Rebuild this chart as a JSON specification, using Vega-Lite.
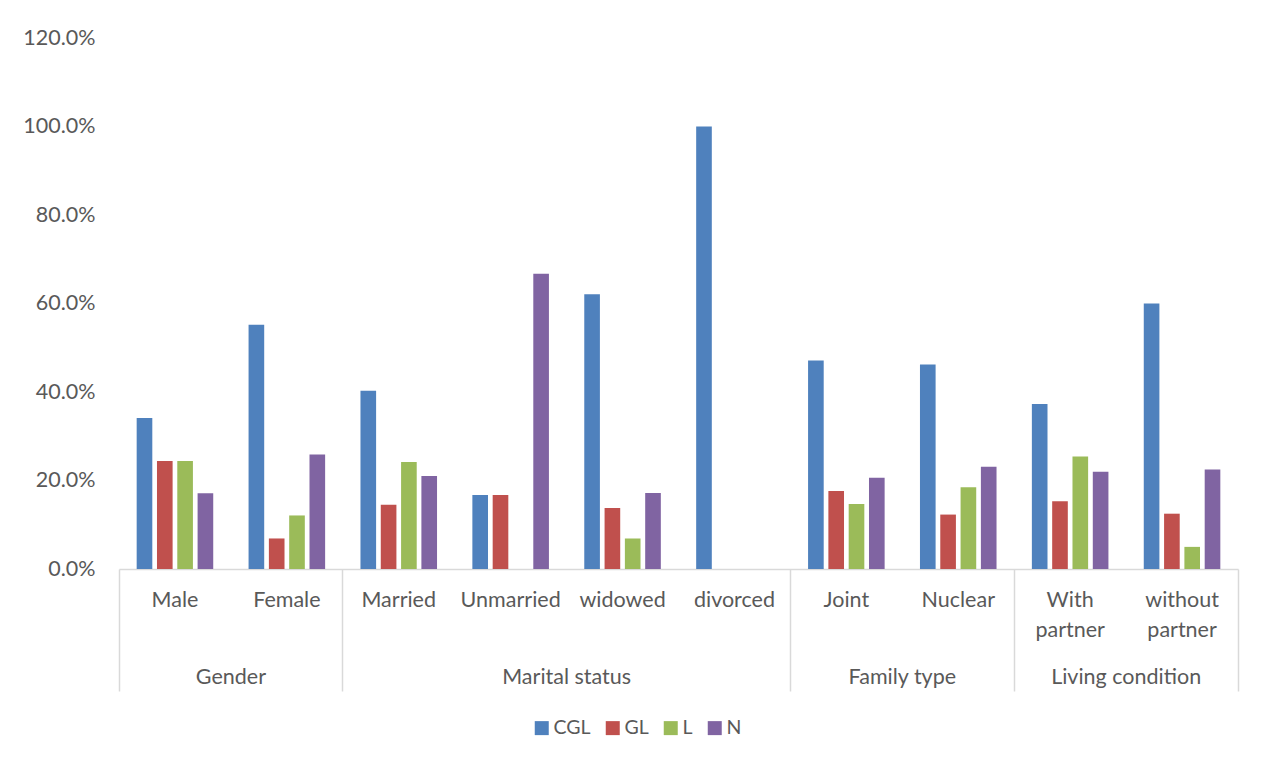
{
  "$schema": "https://vega.github.io/schema/vega-lite/v6.json",
  "autosize": {"type": "none"},
  "width": 1119,
  "height": 531,
  "padding": {"left": 119, "top": 38, "right": 26, "bottom": 193},
  "background": "white",
  "config": {
    "font": "Lato",
    "view": {"stroke": null},
    "axis": {"labelColor": "#595959", "labelFontSize": 21.5, "labelFont": "Lato", "titleColor": "#595959"},
    "legend": {"labelColor": "#595959", "labelFontSize": 19.5, "labelFont": "Lato"}
  },
  "data": {
    "values": [
      {"group": "Gender", "sub": "Male", "series": "CGL", "value": 0.341},
      {"group": "Gender", "sub": "Male", "series": "GL", "value": 0.244},
      {"group": "Gender", "sub": "Male", "series": "L", "value": 0.244},
      {"group": "Gender", "sub": "Male", "series": "N", "value": 0.171},
      {"group": "Gender", "sub": "Female", "series": "CGL", "value": 0.552},
      {"group": "Gender", "sub": "Female", "series": "GL", "value": 0.069},
      {"group": "Gender", "sub": "Female", "series": "L", "value": 0.121},
      {"group": "Gender", "sub": "Female", "series": "N", "value": 0.259},
      {"group": "Marital status", "sub": "Married", "series": "CGL", "value": 0.403},
      {"group": "Marital status", "sub": "Married", "series": "GL", "value": 0.145},
      {"group": "Marital status", "sub": "Married", "series": "L", "value": 0.242},
      {"group": "Marital status", "sub": "Married", "series": "N", "value": 0.21},
      {"group": "Marital status", "sub": "Unmarried", "series": "CGL", "value": 0.167},
      {"group": "Marital status", "sub": "Unmarried", "series": "GL", "value": 0.167},
      {"group": "Marital status", "sub": "Unmarried", "series": "L", "value": 0},
      {"group": "Marital status", "sub": "Unmarried", "series": "N", "value": 0.667},
      {"group": "Marital status", "sub": "widowed", "series": "CGL", "value": 0.621},
      {"group": "Marital status", "sub": "widowed", "series": "GL", "value": 0.138},
      {"group": "Marital status", "sub": "widowed", "series": "L", "value": 0.069},
      {"group": "Marital status", "sub": "widowed", "series": "N", "value": 0.172},
      {"group": "Marital status", "sub": "divorced", "series": "CGL", "value": 1.0},
      {"group": "Marital status", "sub": "divorced", "series": "GL", "value": 0},
      {"group": "Marital status", "sub": "divorced", "series": "L", "value": 0},
      {"group": "Marital status", "sub": "divorced", "series": "N", "value": 0},
      {"group": "Family type", "sub": "Joint", "series": "CGL", "value": 0.471},
      {"group": "Family type", "sub": "Joint", "series": "GL", "value": 0.176},
      {"group": "Family type", "sub": "Joint", "series": "L", "value": 0.147},
      {"group": "Family type", "sub": "Joint", "series": "N", "value": 0.206},
      {"group": "Family type", "sub": "Nuclear", "series": "CGL", "value": 0.462},
      {"group": "Family type", "sub": "Nuclear", "series": "GL", "value": 0.123},
      {"group": "Family type", "sub": "Nuclear", "series": "L", "value": 0.185},
      {"group": "Family type", "sub": "Nuclear", "series": "N", "value": 0.231},
      {"group": "Living condition", "sub": "With partner", "series": "CGL", "value": 0.373},
      {"group": "Living condition", "sub": "With partner", "series": "GL", "value": 0.153},
      {"group": "Living condition", "sub": "With partner", "series": "L", "value": 0.254},
      {"group": "Living condition", "sub": "With partner", "series": "N", "value": 0.22},
      {"group": "Living condition", "sub": "without partner", "series": "CGL", "value": 0.6},
      {"group": "Living condition", "sub": "without partner", "series": "GL", "value": 0.125},
      {"group": "Living condition", "sub": "without partner", "series": "L", "value": 0.05},
      {"group": "Living condition", "sub": "without partner", "series": "N", "value": 0.225}
    ]
  },
  "layer": [
    {
      "mark": {"type": "bar"},
      "encoding": {
        "x": {
          "field": "sub",
          "type": "nominal",
          "sort": null,
          "scale": {"type": "band", "paddingInner": 0, "paddingOuter": 0},
          "axis": {
            "orient": "bottom",
            "title": null,
            "ticks": false,
            "domainColor": "#D9D9D9",
            "domainWidth": 1.5,
            "labelAngle": 0,
            "labelPadding": 20,
            "labelBaseline": "top",
            "labelLineHeight": 30,
            "labelExpr": "split(datum.value, ' ')"
          }
        },
        "xOffset": {
          "field": "series",
          "type": "nominal",
          "sort": ["CGL", "GL", "L", "N"],
          "scale": {"paddingInner": 0.23, "paddingOuter": 0.87}
        },
        "y": {
          "field": "value",
          "type": "quantitative",
          "scale": {"domain": [0, 1.2], "nice": false},
          "axis": {
            "title": null,
            "format": ".1%",
            "values": [0, 0.2, 0.4, 0.6, 0.8, 1.0, 1.2],
            "grid": false,
            "domain": false,
            "ticks": false,
            "labelPadding": 24
          }
        },
        "color": {
          "field": "series",
          "type": "nominal",
          "sort": ["CGL", "GL", "L", "N"],
          "scale": {"domain": ["CGL", "GL", "L", "N"], "range": ["#4F81BD", "#C0504D", "#9BBB59", "#8064A2"]},
          "legend": {
            "title": null,
            "orient": "none",
            "direction": "horizontal",
            "legendX": 413,
            "legendY": 680,
            "symbolType": "square",
            "symbolSize": 196,
            "symbolStrokeWidth": 0,
            "labelOffset": 2,
            "columnPadding": 12,
            "padding": 0
          }
        }
      }
    },
    {
      "mark": {"type": "point", "opacity": 0},
      "encoding": {
        "x": {
          "field": "sub",
          "type": "nominal",
          "sort": null,
          "scale": {"type": "band", "paddingInner": 0, "paddingOuter": 0},
          "axis": {
            "orient": "bottom",
            "title": null,
            "values": ["Male", "Married", "Joint", "With partner"],
            "bandPosition": 0,
            "labels": false,
            "domain": false,
            "tickSize": 122,
            "tickColor": "#D9D9D9",
            "tickWidth": 1.5
          }
        }
      }
    },
    {
      "mark": {"type": "point", "opacity": 0},
      "encoding": {
        "x": {
          "field": "sub",
          "type": "nominal",
          "sort": null,
          "scale": {"type": "band", "paddingInner": 0, "paddingOuter": 0},
          "axis": {
            "orient": "bottom",
            "title": null,
            "values": ["without partner"],
            "bandPosition": 1,
            "labels": false,
            "domain": false,
            "tickSize": 122,
            "tickColor": "#D9D9D9",
            "tickWidth": 1.5
          }
        }
      }
    },
    {
      "mark": {"type": "point", "opacity": 0},
      "encoding": {
        "x": {
          "field": "sub",
          "type": "nominal",
          "sort": null,
          "scale": {"type": "band", "paddingInner": 0, "paddingOuter": 0},
          "axis": {
            "orient": "bottom",
            "title": null,
            "values": ["Male", "Unmarried", "Joint", "With partner"],
            "ticks": false,
            "domain": false,
            "labelAngle": 0,
            "labelBaseline": "top",
            "labelPadding": 97,
            "labelOffset": 56,
            "labelExpr": "datum.value == 'Male' ? 'Gender' : datum.value == 'Unmarried' ? 'Marital status' : datum.value == 'Joint' ? 'Family type' : 'Living condition'"
          }
        }
      }
    }
  ],
  "resolve": {"scale": {"x": "independent"}, "axis": {"x": "independent"}}
}
